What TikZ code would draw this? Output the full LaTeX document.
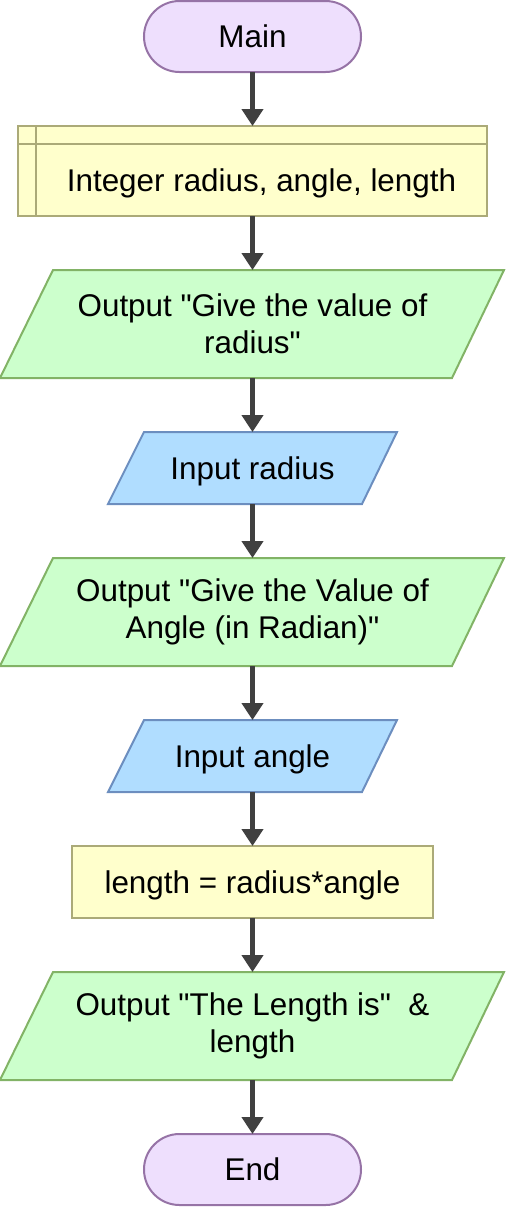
\documentclass[tikz,border=0pt]{standalone}
\usepackage{fontspec}
\setmainfont{Liberation Sans}[Ligatures=TeXOff]
\usetikzlibrary{arrows.meta}
\definecolor{termf}{HTML}{EEDFFD}
\definecolor{termb}{HTML}{9673A6}
\definecolor{procf}{HTML}{FFFFCC}
\definecolor{procb}{HTML}{ABAA78}
\definecolor{outf}{HTML}{CCFFCC}
\definecolor{outb}{HTML}{82B366}
\definecolor{inf}{HTML}{B0DDFF}
\definecolor{inb}{HTML}{6C8EBF}
\definecolor{arrowc}{HTML}{404040}
\begin{document}
\begin{tikzpicture}[x=0.5pt,y=-0.5pt,
  font=\fontsize{15.7pt}{18.3pt}\selectfont,
  term/.style={draw=termb, fill=termf, line width=1pt, rounded corners=17.75pt,
    minimum width=108.5pt, minimum height=35.5pt, inner sep=0pt, outer sep=0pt,
    text height=11.2pt, text depth=0pt},
  procbox/.style={draw=procb, fill=procf, line width=1pt, inner sep=0pt, outer sep=0pt},
  ptxt/.style={inner sep=0pt, outer sep=0pt, align=center, minimum width=150pt},
  stxt/.style={inner sep=0pt, outer sep=0pt, minimum width=100pt, text height=11.2pt, text depth=0pt},
  outshape/.style={draw=outb, fill=outf, line width=1pt},
  inshape/.style={draw=inb, fill=inf, line width=1pt},
  flow/.style={draw=arrowc, line width=2.5pt, -{Triangle[width=10.5pt,length=8.5pt]}}]
\useasboundingbox (0,0) rectangle (505,1207);

% shapes drawn directly
\draw[outshape] (53,270) -- (504,270) -- (452,378) -- (0,378) -- cycle;
\draw[inshape] (144,432) -- (397,432) -- (362,504) -- (108,504) -- cycle;
\draw[outshape] (53,558) -- (504,558) -- (452,666) -- (0,666) -- cycle;
\draw[inshape] (144,720) -- (397,720) -- (362,792) -- (108,792) -- cycle;
\draw[outshape] (53,972) -- (504,972) -- (452,1080) -- (0,1080) -- cycle;

% nodes
\node[term] (main) at (252.5,36.5) {Main};
\node[procbox, minimum width=234.5pt, text height=32.5pt, text depth=12.5pt]
  (decl) at (252.5,171) {\hspace*{9pt}Integer radius, angle, length};
\draw[draw=procb, line width=1pt] ([xshift=9pt]decl.north west) -- ([xshift=9pt]decl.south west);
\draw[draw=procb, line width=1pt] ([yshift=-9pt]decl.north west) -- ([yshift=-9pt]decl.north east);
\node[ptxt, minimum height=54pt] (out1) at (252.5,324) {Output "Give the value of\\radius"};
\node[stxt, minimum height=36pt] (in1) at (252.5,468) {Input radius};
\node[ptxt, minimum height=54pt] (out2) at (252.5,612) {Output "Give the Value of\\Angle (in Radian)"};
\node[stxt, minimum height=36pt] (in2) at (252.5,756) {Input angle};
\node[procbox, minimum width=180.5pt, minimum height=36pt, text height=11.2pt, text depth=0pt]
  (calc) at (252.5,882) {length = radius*angle};
\node[ptxt, minimum height=54pt] (out3) at (252.5,1026) {Output "The Length is"\ \ \&\\length};
\node[term] (end) at (252.5,1169.5) {End};

% connectors
\draw[flow] (main.south) -- (decl.north);
\draw[flow] (decl.south) -- (out1.north);
\draw[flow] (out1.south) -- (in1.north);
\draw[flow] (in1.south) -- (out2.north);
\draw[flow] (out2.south) -- (in2.north);
\draw[flow] (in2.south) -- (calc.north);
\draw[flow] (calc.south) -- (out3.north);
\draw[flow] (out3.south) -- (end.north);
\end{tikzpicture}
\end{document}
